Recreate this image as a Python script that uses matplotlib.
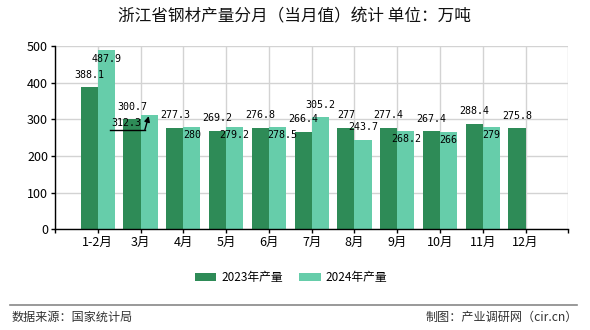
import matplotlib
matplotlib.use("Agg")
import matplotlib.pyplot as plt
import matplotlib.transforms as mtrans
import numpy as np
from matplotlib.patches import Patch
from matplotlib.lines import Line2D

plt.rcParams['font.family'] = ['Noto Sans CJK SC', 'DejaVu Sans']

categories = ['1-2月', '3月', '4月', '5月', '6月', '7月', '8月', '9月', '10月', '11月', '12月']
prod_2023 = [388.1, 300.7, 277.3, 269.2, 276.8, 266.4, 277, 277.4, 267.4, 288.4, 275.8]
prod_2024 = [487.9, 312.3, 280, 279.2, 278.5, 305.2, 243.7, 268.2, 266, 279, None]
label_2023 = ['388.1', '300.7', '277.3', '269.2', '276.8', '266.4', '277', '277.4', '267.4', '288.4', '275.8']
label_2024 = ['487.9', '312.3', '280', '279.2', '278.5', '305.2', '243.7', '268.2', '266', '279', '']
series_names = ['2023年产量', '2024年产量']
yticks = [0, 100, 200, 300, 400, 500]

# label placement offsets in pixels (dx, dy; positive dy = upward)
off_2023 = [(0, 12.5)] * 11
off_2024 = [(0, -9), (-22.6, -8.6), (0, -8.8), (0, -8.5), (4.5, -8.2), (0, 12.3),
            (0, 12.5), (0, -8.2), (0, -8.4), (0, -8.4), (0, 0)]

c23 = '#2E8B57'
c24 = '#66CDAA'

W, H = 590, 330
fig = plt.figure(figsize=(W / 100, H / 100), dpi=100)
ax = fig.add_axes([55 / W, 1 - 229.3 / H, (568.3 - 55) / W, (229.3 - 46) / H])

x = np.arange(len(categories))
bw = 0.4
ax.bar(x - bw / 2, prod_2023, width=bw, color=c23, zorder=2)
v24 = [np.nan if v is None else v for v in prod_2024]
ax.bar(x + bw / 2, v24, width=bw, color=c24, zorder=2)

ax.set_xlim(-1, 11)
ax.set_ylim(0, 500)
ax.set_yticks(yticks)
ax.set_xticks(np.arange(-1, 12))
ax.set_xticklabels([''] + categories + [''])
ax.tick_params(axis='both', labelsize=9, length=3, width=1, color='black', pad=2)
ax.grid(True, color='#d3d3d3', linewidth=1, zorder=0)
ax.set_axisbelow(True)
for s in ['top', 'right']:
    ax.spines[s].set_visible(False)
for s in ['left', 'bottom']:
    ax.spines[s].set_color('black')
    ax.spines[s].set_linewidth(1)
    ax.spines[s].set_zorder(3)

mono = dict(family='DejaVu Sans Mono', fontsize=7.2, color='black', ha='center', va='center', zorder=4)
for i, v in enumerate(prod_2023):
    dx, dy = off_2023[i]
    ax.annotate(label_2023[i], xy=(x[i] - bw / 2, v), xytext=(dx, dy), textcoords='offset pixels', **mono)
for i, v in enumerate(prod_2024):
    if v is None:
        continue
    dx, dy = off_2024[i]
    ax.annotate(label_2024[i], xy=(x[i] + bw / 2, v), xytext=(dx, dy), textcoords='offset pixels', **mono)

# leader line with arrow for the 3月 2024 label
i = 1
xa = x[i] + bw / 2
ya = prod_2024[i]
ax.annotate('', xy=(xa, ya), xytext=(-4.3, -15.3), textcoords='offset pixels',
            arrowprops=dict(arrowstyle='-|>', color='black', lw=1, shrinkA=0, shrinkB=1,
                            mutation_scale=8), zorder=5)
t1 = mtrans.offset_copy(ax.transData, fig=fig, x=-39.3, y=-15.3, units='dots')
t2 = mtrans.offset_copy(ax.transData, fig=fig, x=-4.3, y=-15.3, units='dots')
p1 = t1.transform((xa, ya))
p2 = t2.transform((xa, ya))
fig.add_artist(Line2D([p1[0] / W, p2[0] / W], [p1[1] / H, p2[1] / H], transform=fig.transFigure,
                      color='black', lw=1, zorder=5))

fig.text(294 / W, 1 - 17 / H, '浙江省钢材产量分月（当月值）统计 单位：万吨', ha='center', va='center',
         fontsize=12, color='#111111')

handles = [Patch(facecolor=c23, edgecolor='none'), Patch(facecolor=c24, edgecolor='none')]
fig.legend(handles, series_names, loc='center', bbox_to_anchor=(291 / W, 1 - 277.5 / H), ncol=2,
           frameon=False, fontsize=8.5, handlelength=1.85, handleheight=0.76, handletextpad=0.42,
           columnspacing=1.35, borderpad=0, borderaxespad=0)

fig.add_artist(Line2D([10 / W, 577 / W], [1 - 305 / H, 1 - 305 / H], transform=fig.transFigure,
                      color='#888888', lw=1.2))
fig.text(12 / W, 1 - 317 / H, '数据来源：国家统计局', ha='left', va='center', fontsize=8.7, color='#333333')
fig.text(578 / W, 1 - 317 / H, '制图：产业调研网（cir.cn）', ha='right', va='center', fontsize=8.7,
         color='#333333')

fig.savefig('out.png', dpi=100)
